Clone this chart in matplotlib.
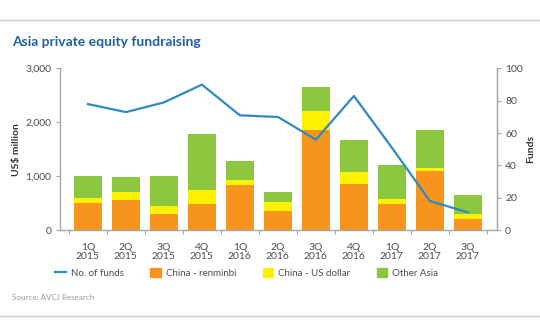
import matplotlib
matplotlib.use("Agg")
from matplotlib import pyplot as plt
from matplotlib.lines import Line2D
from matplotlib.patches import Patch
import numpy as np

plt.rcParams['font.family'] = ['Lato', 'DejaVu Sans']

# quarterly fundraising, US$ million
quarters = ['1Q\n2015', '2Q\n2015', '3Q\n2015', '4Q\n2015', '1Q\n2016', '2Q\n2016',
            '3Q\n2016', '4Q\n2016', '1Q\n2017', '2Q\n2017', '3Q\n2017']
china_rmb = [510, 560, 300, 480, 830, 350, 1850, 850, 480, 1090, 200]
china_usd = [80, 140, 140, 270, 100, 170, 370, 220, 100, 60, 100]
other_asia = [410, 285, 565, 1030, 350, 190, 440, 600, 620, 710, 350]
# number of funds closed
no_of_funds = [78, 73, 79, 90, 71, 70, 56, 83, 51, 18, 11]

orange = '#f7941d'
yellow = '#fff200'
green = '#8dc63f'
blue = '#2e8bc0'
grey = '#a6a6a6'
txt = '#4d4d4d'

fig = plt.figure(figsize=(5.4, 3.34), dpi=100)
fig.patch.set_facecolor('white')

ax = fig.add_axes([0.111, 0.311, 0.809, 0.484])
x = np.arange(len(quarters))
w = 0.73
rmb = np.array(china_rmb)
usd = np.array(china_usd)
ax.bar(x, rmb, w, color=orange, linewidth=0)
ax.bar(x, usd, w, bottom=rmb, color=yellow, linewidth=0)
ax.bar(x, other_asia, w, bottom=rmb + usd, color=green, linewidth=0)

ax.set_ylim(0, 3000)
ax.set_xlim(-0.735, 10.76)
ax.set_yticks([0, 1000, 2000, 3000])
ax.set_yticklabels(['0', '1,000', '2,000', '3,000'])
ax.set_xticks(x)
ax.set_xticklabels(quarters, linespacing=1.0)
ax.set_xticks(np.arange(-0.5, 11, 1), minor=True)
ax.tick_params(axis='x', which='major', length=0, pad=9, labelsize=7.5, labelcolor=txt)
ax.tick_params(axis='x', which='minor', length=3, color=grey, width=0.8)
ax.tick_params(axis='y', length=3, color=grey, width=0.8, labelsize=7.5,
               labelcolor=txt, pad=3)
ax.spines['top'].set_visible(False)
for s in ['left', 'bottom', 'right']:
    ax.spines[s].set_color(grey)
    ax.spines[s].set_linewidth(1.0)
ax.set_ylabel('US$ million', fontsize=7.5, fontweight='bold', color='#333333', labelpad=3)

ax2 = ax.twinx()
ax2.plot(x, no_of_funds, color=blue, linewidth=1.6)
ax2.set_ylim(0, 100)
ax2.set_yticks([0, 20, 40, 60, 80, 100])
ax2.tick_params(axis='y', length=3, color=grey, width=0.8, labelsize=7.5,
                labelcolor=txt, pad=3)
ax2.spines['top'].set_visible(False)
ax2.spines['right'].set_color(grey)
ax2.spines['left'].set_visible(False)
ax2.spines['bottom'].set_visible(False)
ax2.set_ylabel('Funds', fontsize=7.5, fontweight='bold', color='#333333',
               rotation=90, labelpad=2)

fig.text(0.022, 0.873, 'Asia private equity fundraising', fontsize=10,
         fontweight='bold', color='#1f5f9f', va='center')

handles = [Line2D([0], [0], color=blue, linewidth=1.6),
           Patch(color=orange), Patch(color=yellow), Patch(color=green)]
labels = ['No. of funds', 'China - renminbi', 'China - US dollar', 'Other Asia']
fig.legend(handles, labels, loc='center', bbox_to_anchor=(0.457, 0.183), ncol=4,
           frameon=False, fontsize=7, handlelength=1.1, handleheight=1.0,
           handletextpad=0.5, columnspacing=2.7, labelcolor=txt)

fig.text(0.022, 0.11, 'Source: AVCJ Research', fontsize=5.8, color='#9a9a9a', va='center')

fig.add_artist(Line2D([0, 1], [0.94, 0.94], color='#cfcfcf', linewidth=1.0))
fig.add_artist(Line2D([0, 1], [0.054, 0.054], color='#cfcfcf', linewidth=1.0))

fig.savefig('out.png', dpi=100, facecolor='white')
